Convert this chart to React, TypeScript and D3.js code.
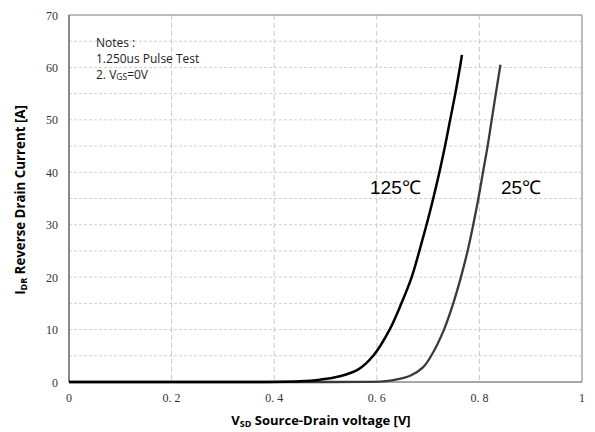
import React from "react";
import * as d3 from "d3";

const xTicks = [0, 0.2, 0.4, 0.6, 0.8, 1];
const xTickLabels = ["0", "0. 2", "0. 4", "0. 6", "0. 8", "1"];
const yTicks = [0, 10, 20, 30, 40, 50, 60, 70];
const yGrid = [5, 10, 15, 20, 25, 30, 35, 40, 45, 50, 55, 60, 65];

const v125 = [0, 0.2, 0.35, 0.42, 0.449, 0.489, 0.528, 0.564, 0.593, 0.625, 0.648, 0.668, 0.683, 0.697, 0.71, 0.722, 0.733, 0.743, 0.753, 0.762, 0.766];
const i125 = [0, 0, 0, 0.03, 0.12, 0.45, 1.1, 2.4, 5, 10, 15, 20, 25, 30, 35, 40, 45, 50, 55, 60, 62.4];
const v25 = [0, 0.25, 0.5, 0.58, 0.612, 0.632, 0.665, 0.69, 0.706, 0.731, 0.749, 0.764, 0.777, 0.788, 0.798, 0.807, 0.816, 0.824, 0.832, 0.841];
const i25 = [0, 0, 0, 0.02, 0.1, 0.35, 1.2, 2.8, 5, 10, 15, 20, 25, 30, 35, 40, 45, 50, 55, 60.5];

export default function App() {
  const W = 595, H = 432;
  const x = d3.scaleLinear().domain([0, 1]).range([69, 582]);
  const y = d3.scaleLinear().domain([0, 70]).range([382, 15]);
  const line = d3.line<[number, number]>().x(d => x(d[0])).y(d => y(d[1])).curve(d3.curveCatmullRom.alpha(0.5));
  const d125 = line(v125.map((v, i) => [v, i125[i]]))!;
  const d25 = line(v25.map((v, i) => [v, i25[i]]))!;
  const serif = "'Liberation Serif', 'DejaVu Serif', serif";
  const sans = "'Open Sans', 'Noto Sans', sans-serif";
  const arial = "'Liberation Sans', Arial, sans-serif";
  return (
    <svg width={W} height={H} style={{ position: "absolute", left: 0, top: 0, background: "#fff" }}>
      <rect x={0} y={0} width={W} height={H} fill="#fff" />
      {yGrid.map(t => (
        <line key={"h" + t} x1={x(0)} x2={x(1)} y1={y(t)} y2={y(t)} stroke="#d0d0d0" strokeWidth={1} strokeDasharray="3,2" />
      ))}
      {xTicks.slice(1, -1).map(t => (
        <line key={"v" + t} x1={x(t)} x2={x(t)} y1={y(70)} y2={y(0)} stroke="#c8c8c8" strokeWidth={1} strokeDasharray="5,3" />
      ))}
      <line x1={x(0)} x2={x(1)} y1={y(70)} y2={y(70)} stroke="#a6a6a6" strokeWidth={1.5} />
      <line x1={x(1)} x2={x(1)} y1={y(70)} y2={y(0)} stroke="#a6a6a6" strokeWidth={1.5} />
      <line x1={x(0)} x2={x(0)} y1={y(70)} y2={y(0)} stroke="#888" strokeWidth={2} />
      <line x1={x(0)} x2={x(1)} y1={y(0)} y2={y(0)} stroke="#888" strokeWidth={1.5} />
      {yTicks.map(t => (
        <text key={"yt" + t} x={58} y={y(t) + 4.5} textAnchor="end" fontFamily={serif} fontSize={12} fill="#333">{t}</text>
      ))}
      {xTicks.map((t, i) => (
        <text key={"xt" + t} x={x(t)} y={402} textAnchor="middle" fontFamily={serif} fontSize={12} fill="#333">{xTickLabels[i]}</text>
      ))}
      <path d={d25} fill="none" stroke="#3a3a3a" strokeWidth={2.3} />
      <path d={d125} fill="none" stroke="#000" strokeWidth={2.5} />
      <text x={96} y={47} fontFamily={sans} fontSize={12} fill="#222">Notes :</text>
      <text x={96} y={63} fontFamily={sans} fontSize={12} fill="#222">1.250us Pulse Test</text>
      <text x={96} y={79} fontFamily={sans} fontSize={12} fill="#222">
        2. V<tspan fontSize={8.5} dy={1}>GS</tspan><tspan dy={-1}>=0V</tspan>
      </text>
      <text x={370} y={194} fontFamily={arial} fontSize={19} fill="#000">125℃</text>
      <text x={501} y={194} fontFamily={arial} fontSize={19} fill="#000">25℃</text>
      <text x={321} y={425} textAnchor="middle" fontFamily={sans} fontSize={13} fontWeight="bold" fill="#000">
        V<tspan fontSize={9} dy={2}>SD</tspan><tspan dy={-2}> Source-Drain voltage [V]</tspan>
      </text>
      <text transform="translate(25,200) rotate(-90)" textAnchor="middle" fontFamily={sans} fontSize={13.3} fontWeight="bold" fill="#000">
        I<tspan fontSize={9} dy={2}>DR</tspan><tspan dy={-2}>  Reverse Drain Current [A]</tspan>
      </text>
    </svg>
  );
}
